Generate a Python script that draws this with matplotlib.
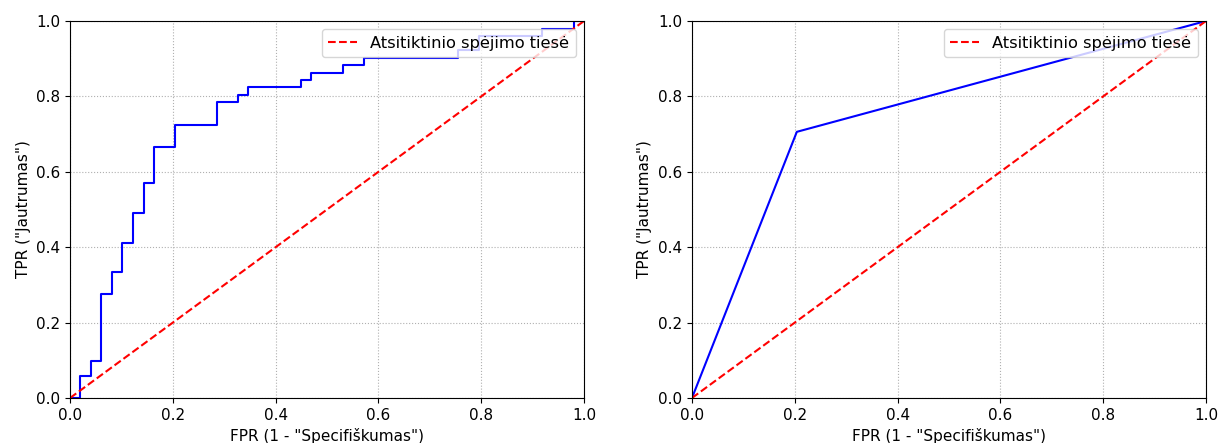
import matplotlib
matplotlib.use("Agg")
import matplotlib.pyplot as plt

# ROC curve of the first model (corner points of the step curve)
fpr_a = [0.0, 0.020, 0.020, 0.041, 0.041, 0.061, 0.061, 0.082, 0.082, 0.102, 0.102,
         0.122, 0.122, 0.143, 0.143, 0.163, 0.163, 0.204, 0.204, 0.286, 0.286,
         0.327, 0.327, 0.347, 0.347, 0.449, 0.449, 0.469, 0.469, 0.531, 0.531,
         0.571, 0.571, 0.755, 0.755, 0.796, 0.796, 0.918, 0.918, 0.980, 0.980, 1.0]
tpr_a = [0.0, 0.0, 0.059, 0.059, 0.098, 0.098, 0.275, 0.275, 0.333, 0.333, 0.412,
         0.412, 0.490, 0.490, 0.569, 0.569, 0.667, 0.667, 0.725, 0.725, 0.784,
         0.784, 0.804, 0.804, 0.824, 0.824, 0.843, 0.843, 0.863, 0.863, 0.882,
         0.882, 0.902, 0.902, 0.922, 0.922, 0.961, 0.961, 0.980, 0.980, 1.0, 1.0]

# ROC curve of the second model
fpr_b = [0.0, 0.204, 1.0]
tpr_b = [0.0, 0.706, 1.0]

# Random-guess diagonal
diag = [0.0, 1.0]

ticks = [0.0, 0.2, 0.4, 0.6, 0.8, 1.0]
legend_label = "Atsitiktinio spėjimo tiesė"
xlabel = 'FPR (1 - "Specifiškumas")'
ylabel = 'TPR ("Jautrumas")'

fig, axes = plt.subplots(1, 2, figsize=(12.2, 4.43), dpi=100)
fig.subplots_adjust(left=0.0574, right=0.9885, bottom=0.1016, top=0.9526, wspace=0.21)

for ax, fpr, tpr in zip(axes, [fpr_a, fpr_b], [tpr_a, tpr_b]):
    ax.plot(fpr, tpr, color="blue", lw=1.5)
    ax.plot(diag, diag, color="red", ls="--", lw=1.5, label=legend_label)
    ax.set_xlim(0, 1)
    ax.set_ylim(0, 1)
    ax.set_xticks(ticks)
    ax.set_yticks(ticks)
    ax.set_xlabel(xlabel, fontsize=11)
    ax.set_ylabel(ylabel, fontsize=11)
    ax.tick_params(labelsize=11)
    ax.grid(True, ls=":", color="#b0b0b0", lw=0.8)
    ax.legend(loc="upper right", fontsize=11.7, handlelength=1.8)

fig.savefig("out.png", dpi=100)
